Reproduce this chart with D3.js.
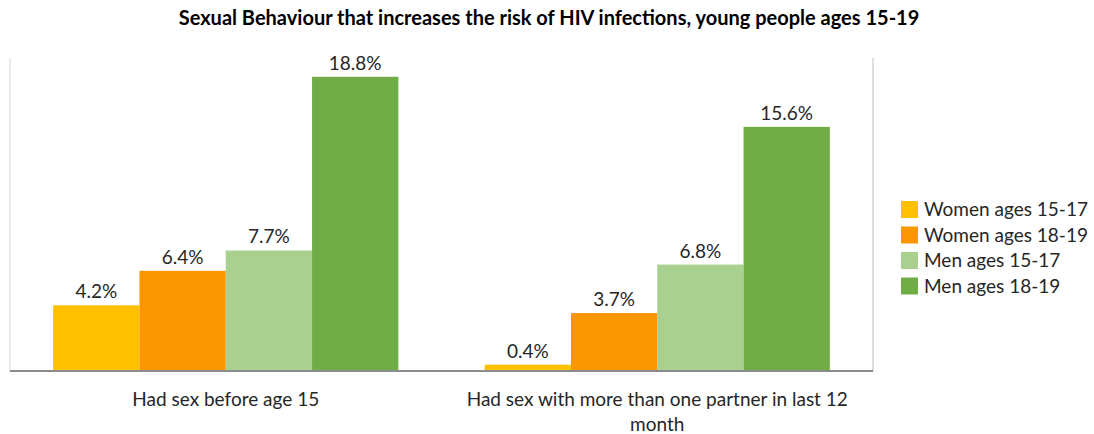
<!DOCTYPE html>
<html>
<head>
<meta charset="utf-8">
<style>
    body { margin: 0; background: #fff; }
    svg text { font-family: Lato, "Open Sans", sans-serif; fill: #262626; }
    .title { font-weight: bold; font-size: 20px; fill: #000; }
    .value { font-size: 19px; text-anchor: middle; }
    .cat { font-size: 19px; text-anchor: middle; }
    .legend text { font-size: 19px; }
</style>
<script src="https://d3js.org/d3.v7.min.js"></script>
</head>
<body>
<svg width="1094" height="434"></svg>
<script>
    // data
    var categories = ["Had sex before age 15", "Had sex with more than one partner in last 12 month"];
    var groups = ["Women ages 15-17", "Women ages 18-19", "Men ages 15-17", "Men ages 18-19"];
    var women1517 = [4.2, 0.4];
    var women1819 = [6.4, 3.7];
    var men1517 = [7.7, 6.8];
    var men1819 = [18.8, 15.6];
    var colors = ["#FFC000", "#FA9600", "#A9D08E", "#70AD47"];
    var titleText = "Sexual Behaviour that increases the risk of HIV infections, young people ages 15-19";

    var series = [women1517, women1819, men1517, men1819];
    var data = categories.map(function (c, i) {
        return { cat: c, values: series.map(function (s, j) { return { key: groups[j], value: s[i] }; }) };
    });

    var svg = d3.select("svg");
    var mLeft = 10, mRight = 873, mTop = 58, mBottom = 371;

    var x0 = d3.scaleBand()
        .domain(categories)
        .range([mLeft, mRight])
        .paddingInner(0.2)
        .paddingOuter(0.1);

    var x1 = d3.scaleBand()
        .domain(groups)
        .range([0, x0.bandwidth()]);

    var y = d3.scaleLinear()
        .domain([0, 20])
        .range([mBottom, mTop]);

    var color = d3.scaleOrdinal().domain(groups).range(colors);

    // title
    svg.append("text")
        .attr("class", "title")
        .attr("x", 549)
        .attr("y", 25)
        .attr("text-anchor", "middle")
        .text(titleText);

    // plot side borders
    svg.append("line")
        .attr("x1", mLeft).attr("x2", mLeft)
        .attr("y1", mTop).attr("y2", mBottom)
        .attr("stroke", "#d9d9d9");
    svg.append("line")
        .attr("x1", mRight).attr("x2", mRight)
        .attr("y1", mTop).attr("y2", mBottom)
        .attr("stroke", "#bfbfbf");

    var g = svg.selectAll(".grp")
        .data(data)
        .enter().append("g")
        .attr("class", "grp")
        .attr("transform", function (d) { return "translate(" + x0(d.cat) + ",0)"; });

    g.selectAll("rect")
        .data(function (d) { return d.values; })
        .enter().append("rect")
        .attr("x", function (d) { return x1(d.key); })
        .attr("y", function (d) { return y(d.value); })
        .attr("width", x1.bandwidth())
        .attr("height", function (d) { return y(0) - y(d.value); })
        .attr("fill", function (d) { return color(d.key); });

    g.selectAll(".value")
        .data(function (d) { return d.values; })
        .enter().append("text")
        .attr("class", "value")
        .attr("x", function (d) { return x1(d.key) + x1.bandwidth() / 2; })
        .attr("y", function (d) { return y(d.value) - 7; })
        .text(function (d) { return d.value.toFixed(1) + "%"; });

    // x axis
    var xAxis = svg.append("g")
        .attr("transform", "translate(0," + mBottom + ")")
        .call(d3.axisBottom(x0).tickSize(0).tickSizeOuter(0).tickPadding(22));
    xAxis.select(".domain").attr("stroke", "#8c8c8c").attr("stroke-width", 2)
        .attr("d", "M" + mLeft + ",0H" + mRight);
    xAxis.selectAll("text")
        .attr("class", "cat")
        .attr("font-size", null)
        .attr("font-family", null)
        .call(wrap, x0.step());

    function wrap(text, width) {
        text.each(function () {
            var t = d3.select(this),
                words = t.text().split(/\s+/).reverse(),
                word, line = [], lineNo = 0,
                yy = t.attr("y"), dy = parseFloat(t.attr("dy")),
                tspan = t.text(null).append("tspan").attr("x", 0).attr("y", yy).attr("dy", dy + "em");
            while ((word = words.pop())) {
                line.push(word);
                tspan.text(line.join(" "));
                if (tspan.node().getComputedTextLength() > width && line.length > 1) {
                    line.pop();
                    tspan.text(line.join(" "));
                    line = [word];
                    tspan = t.append("tspan").attr("x", 0).attr("y", yy)
                        .attr("dy", (++lineNo * 1.3 + dy) + "em").text(word);
                }
            }
        });
    }

    // legend
    var legend = svg.append("g")
        .attr("class", "legend")
        .attr("transform", "translate(901,201)");

    var item = legend.selectAll("g")
        .data(groups)
        .enter().append("g")
        .attr("transform", function (d, i) { return "translate(0," + i * 25.5 + ")"; });

    item.append("rect")
        .attr("width", 17)
        .attr("height", 17)
        .attr("fill", function (d) { return color(d); });

    item.append("text")
        .attr("x", 23)
        .attr("y", 15)
        .text(function (d) { return d; });
</script>
</body>
</html>
